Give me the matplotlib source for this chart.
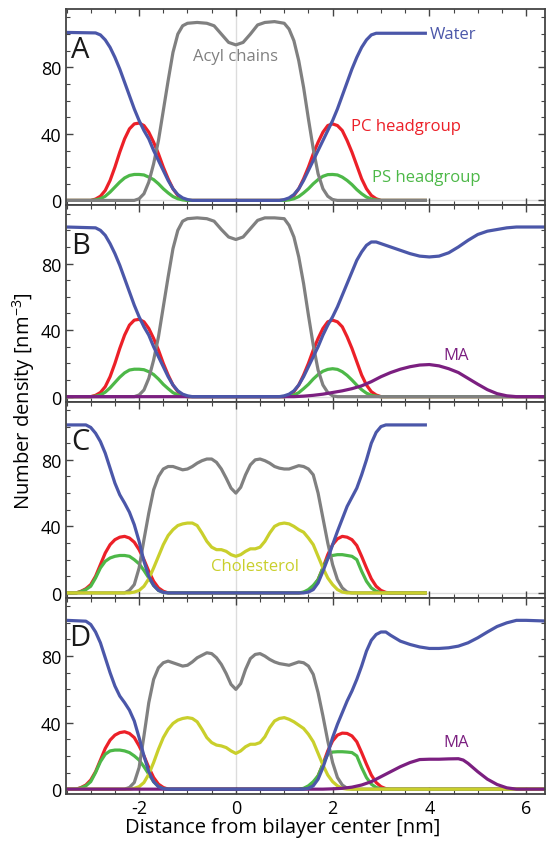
import matplotlib
matplotlib.use('Agg')
import matplotlib.pyplot as plt
from matplotlib.ticker import MultipleLocator

plt.rcParams['font.family'] = ['Open Sans', 'DejaVu Sans']
plt.rcParams['axes.unicode_minus'] = False
plt.rcParams['mathtext.default'] = 'regular'

# colours
BLUE = '#4b57a9'
RED = '#ec2028'
GREEN = '#4db848'
GRAY = '#808080'
YELLOW = '#c9cf2c'
PURPLE = '#7b1f80'

# ---------------- panel A ----------------
water_a_x = [-3.5, -2.9, -2.8, -2.7, -2.6, -2.5, -2.4, -2.3, -2.2, -2.1, -2.0, -1.9, -1.8, -1.7, -1.6, -1.5,
             -1.4, -1.3, -1.2, -1.1, -1.0, -0.9,
             0.9, 1.0, 1.1, 1.2, 1.3, 1.4, 1.5, 1.6, 1.7, 1.8, 1.9, 2.0, 2.1, 2.2, 2.3, 2.4, 2.5, 2.6, 2.7, 2.8,
             2.9, 3.95]
water_a_y = [101, 100.7, 99.5, 96.5, 92, 86, 79, 71, 63, 55, 48, 42, 37, 30, 24, 18, 12, 7, 3.5, 1.5, 0.5, 0,
             0, 0.5, 1.5, 3.5, 7, 12, 18, 24, 30, 36, 42, 48, 55, 63, 71, 79, 86, 92, 96.5, 99.5, 100.5, 100.5]

acyl_a_x = [-3.5, -2.1, -2.0, -1.9, -1.8, -1.7, -1.6, -1.5, -1.4, -1.3, -1.2, -1.1, -1.0, -0.8, -0.6, -0.45, -0.3,
            -0.15, 0.0, 0.15, 0.3, 0.45, 0.6, 0.8, 1.0, 1.1, 1.2, 1.3, 1.4, 1.5, 1.6, 1.7, 1.8, 1.9, 2.0, 2.1, 3.95]
acyl_a_y = [0, 0, 1, 4, 11, 22, 36, 54, 72, 89, 100, 105, 106.5, 107, 106.5, 105, 100, 95, 93.5, 95, 100, 105.5,
            107, 107.5, 106.5, 103, 96, 84, 68, 49, 31, 16, 7, 2.5, 0.5, 0, 0]

head_a_x = [-3.5, -3.0, -2.9, -2.8, -2.7, -2.6, -2.5, -2.4, -2.3, -2.2, -2.1, -2.0, -1.9, -1.8, -1.7, -1.6, -1.5,
            -1.4, -1.3, -1.2, -1.1, -1.0,
            1.0, 1.1, 1.2, 1.3, 1.4, 1.5, 1.6, 1.7, 1.8, 1.9, 2.0, 2.1, 2.2, 2.3, 2.4, 2.5, 2.6, 2.7, 2.8, 2.9,
            3.0, 3.95]
pc_a_y = [0, 0, 0.8, 2.5, 6, 12, 20, 29, 37, 43, 46, 46.5, 45, 41, 35, 28, 20, 13, 7, 3, 1, 0,
          0, 1, 3, 7, 13, 20, 28, 35, 41, 45, 46, 45, 42, 36, 29, 21, 13, 7, 3, 1, 0, 0]
ps_a_y = [0, 0, 0.3, 1, 2.5, 5, 8, 11, 13.5, 15, 15.6, 15.6, 15.3, 14, 12.5, 10, 7, 4.5, 2.3, 1, 0.3, 0,
          0, 0.3, 1, 2.3, 4.5, 7, 10, 12.5, 14.5, 15.5, 15.6, 15.3, 14, 12, 9.5, 6.5, 4, 2, 0.8, 0.3, 0, 0]

# ---------------- panel B ----------------
water_b_x = [-3.5, -2.9, -2.8, -2.7, -2.6, -2.5, -2.4, -2.3, -2.2, -2.1, -2.0, -1.9, -1.8, -1.7, -1.6, -1.5,
             -1.4, -1.3, -1.2, -1.1, -1.0, -0.9,
             0.9, 1.0, 1.1, 1.2, 1.3, 1.4, 1.5, 1.6, 1.7, 1.8, 1.9, 2.0, 2.1, 2.2, 2.3, 2.4, 2.5, 2.6, 2.7, 2.8,
             2.9, 3.0, 3.2, 3.4, 3.6, 3.8, 4.0, 4.2, 4.4, 4.6, 4.8, 5.0, 5.2, 5.4, 5.6, 5.8, 6.0, 6.5]
water_b_y = [102, 101.5, 100, 97, 92, 86, 79, 71, 63, 55, 48, 42, 37, 30, 24, 18, 12, 7, 3.5, 1.5, 0.5, 0,
             0, 0.5, 1.5, 3.5, 7, 12, 18, 24, 30, 37, 43, 48, 54, 61, 68, 75, 82, 87, 91, 93, 93,
             92, 90, 88, 86, 84.5, 84, 84.5, 86.5, 90, 94, 97.5, 99.5, 100.5, 101.5, 102, 102, 102]

acyl_b_x = [-3.5, -2.1, -2.0, -1.9, -1.8, -1.7, -1.6, -1.5, -1.4, -1.3, -1.2, -1.1, -1.0, -0.8, -0.6, -0.45, -0.3,
            -0.15, 0.0, 0.15, 0.3, 0.45, 0.6, 0.8, 1.0, 1.1, 1.2, 1.3, 1.4, 1.5, 1.6, 1.7, 1.8, 1.9, 2.0, 2.1, 6.5]
acyl_b_y = [0, 0, 1, 4, 11, 22, 36, 54, 72, 89, 100, 105.5, 107, 107.5, 107, 105.5, 100.5, 96, 94.5, 96, 101, 106,
            107.5, 107.5, 107, 103, 96, 84, 68, 49, 31, 16, 7, 2.5, 0.5, 0, 0]

head_b_x = [-3.5, -3.0, -2.9, -2.8, -2.7, -2.6, -2.5, -2.4, -2.3, -2.2, -2.1, -2.0, -1.9, -1.8, -1.7, -1.6, -1.5,
            -1.4, -1.3, -1.2, -1.1, -1.0,
            1.0, 1.1, 1.2, 1.3, 1.4, 1.5, 1.6, 1.7, 1.8, 1.9, 2.0, 2.1, 2.2, 2.3, 2.4, 2.5, 2.6, 2.7, 2.8, 2.9,
            3.0, 6.5]
pc_b_y = [0, 0, 0.8, 2.5, 6, 12, 20, 29, 37, 43, 46, 46.5, 45, 41, 35, 28, 20, 13, 7, 3, 1, 0,
          0, 1, 3, 7, 13, 20, 28, 35, 41, 45, 46, 45, 42, 36, 29, 21, 13, 7, 3, 1, 0, 0]
ps_b_y = [0, 0, 0.3, 1, 2.7, 5.3, 8.5, 11.7, 14.3, 16, 16.5, 16.5, 16.2, 15, 13.3, 10.6, 7.4, 4.8, 2.4, 1, 0.3, 0,
          0, 0.3, 1, 2.4, 4.8, 7.4, 10.6, 13.3, 15.3, 16.4, 16.8, 16.4, 15, 12.8, 10, 6.9, 4.2, 2.1, 0.8, 0.3, 0, 0]

ma_b_x = [-3.5, 1.2, 1.4, 1.6, 1.8, 2.0, 2.2, 2.4, 2.6, 2.8, 3.0, 3.2, 3.4, 3.6, 3.8, 4.0, 4.2, 4.4, 4.6, 4.8,
          5.0, 5.2, 5.4, 5.6, 5.8, 6.5]
ma_b_y = [0, 0, 0.3, 0.8, 1.5, 2.5, 3.5, 4.8, 6.5, 9, 12, 14.5, 16.5, 18, 19, 19.3, 18.5, 16.8, 14.5, 11,
          7.5, 4.2, 1.8, 0.5, 0, 0]

# ---------------- panel C ----------------
water_c_x = [-3.5, -3.1, -3.0, -2.9, -2.8, -2.7, -2.6, -2.5, -2.4, -2.3, -2.2, -2.1, -2.0, -1.9, -1.8, -1.7,
             -1.6, -1.5, -1.4,
             1.4, 1.5, 1.6, 1.7, 1.8, 1.9, 2.0, 2.1, 2.2, 2.3, 2.4, 2.5, 2.6, 2.7, 2.8, 2.9, 3.0, 3.1, 3.95]
water_c_y = [101, 101, 99.5, 96, 91, 84, 75, 66, 59, 54, 48.5, 41, 31, 19, 10, 4.5, 1.5, 0.3, 0,
             0, 0.5, 2, 6, 13, 20.5, 29, 37, 44.5, 52, 57.5, 63, 71, 80, 90, 96.5, 100, 101, 101]

core_c_x = [-3.5, -2.3, -2.2, -2.1, -2.0, -1.9, -1.8, -1.7, -1.6, -1.5, -1.4, -1.3, -1.2, -1.1, -1.0, -0.9, -0.8,
            -0.7, -0.6, -0.5, -0.4, -0.3, -0.2, -0.1, 0.0, 0.1, 0.2, 0.3, 0.4, 0.5, 0.6, 0.7, 0.8, 0.9, 1.0,
            1.1, 1.2, 1.3, 1.4, 1.5, 1.6, 1.7, 1.8, 1.9, 2.0, 2.1, 2.2, 2.3, 2.4, 3.95]
acyl_c_y = [0, 0, 1.5, 5, 15, 32, 48, 62, 70, 74.5, 76, 76, 75, 74, 74.5, 76, 78, 79.5, 80.5, 80.5, 78.5, 74.5,
            69, 63, 60, 63.5, 71, 77, 80, 80.5, 79.5, 78, 76, 75, 74.5, 74.5, 75.5, 76.5, 76, 74.5, 71, 60, 45,
            30, 17, 8, 3, 0.5, 0, 0]
chol_c_y = [0, 0, 0, 0.5, 1.5, 4, 8.5, 15, 22, 29, 34.5, 38, 40.5, 41.5, 42, 42, 40.5, 36, 31, 27.5, 26, 26,
            25, 23, 22, 23, 25, 26.5, 26.5, 27.5, 31, 36, 40, 41.5, 42, 41.5, 40, 38, 36.5, 33, 29, 22, 15, 9,
            5, 2, 0.5, 0, 0, 0]

head_c_x = [-3.5, -3.3, -3.2, -3.1, -3.0, -2.9, -2.8, -2.7, -2.6, -2.5, -2.4, -2.3, -2.2, -2.1, -2.0, -1.9,
            -1.8, -1.7, -1.6, -1.5, -1.4,
            1.3, 1.4, 1.5, 1.6, 1.7, 1.8, 1.9, 2.0, 2.1, 2.2, 2.3, 2.4, 2.5, 2.6, 2.7, 2.8, 2.9, 3.0, 3.1, 3.2,
            3.95]
pc_c_y = [0, 0, 1, 2.5, 5, 10, 17, 24, 29, 32, 33.5, 34, 33, 30.5, 26, 20, 13, 7, 3, 1, 0,
          0, 0.3, 1, 3.5, 8, 15, 23, 29, 32.5, 34, 33.5, 32, 28.5, 22, 15, 8.5, 4, 1.5, 0.3, 0, 0]
ps_c_y = [0, 0, 0.8, 2, 4, 9, 15, 19, 21, 22, 22.5, 22.5, 22, 20, 17.5, 13.5, 9, 4.5, 1.5, 0.3, 0,
          0, 0.5, 2, 4.5, 8, 15, 21, 22.5, 23, 23, 22.5, 22, 20, 13, 7, 3, 1, 0.2, 0, 0, 0]

# ---------------- panel D ----------------
water_d_x = [-3.5, -3.1, -3.0, -2.9, -2.8, -2.7, -2.6, -2.5, -2.4, -2.3, -2.2, -2.1, -2.0, -1.9, -1.8, -1.7,
             -1.6, -1.5, -1.4,
             1.4, 1.5, 1.6, 1.7, 1.8, 1.9, 2.0, 2.1, 2.2, 2.3, 2.4, 2.5, 2.6, 2.7, 2.8, 2.9, 3.0, 3.1,
             3.2, 3.4, 3.6, 3.8, 4.0, 4.2, 4.4, 4.6, 4.8, 5.0, 5.2, 5.4, 5.6, 5.8, 6.0, 6.5]
water_d_y = [101.5, 101, 99, 94.5, 88, 79, 70, 62, 56, 52, 47.5, 41, 31, 20, 10.5, 4.5, 1.5, 0.3, 0,
             0, 0.5, 2, 6, 13, 21.5, 31, 39, 46, 53, 59, 66, 74, 83, 89.5, 93, 94.5, 94.5,
             92.5, 89, 87, 85.5, 84.6, 84.6, 85, 86, 88, 91, 94.5, 97.8, 100, 101.5, 101.5, 101]

core_d_x = [-3.5, -2.3, -2.2, -2.1, -2.0, -1.9, -1.8, -1.7, -1.6, -1.5, -1.4, -1.3, -1.2, -1.1, -1.0, -0.9, -0.8,
            -0.7, -0.6, -0.5, -0.4, -0.3, -0.2, -0.1, 0.0, 0.1, 0.2, 0.3, 0.4, 0.5, 0.6, 0.7, 0.8, 0.9, 1.0,
            1.1, 1.2, 1.3, 1.4, 1.5, 1.6, 1.7, 1.8, 1.9, 2.0, 2.1, 2.2, 2.3, 2.4, 6.5]
acyl_d_y = [0, 0, 1, 4, 13, 32, 52, 66, 73, 76, 77, 76, 75, 74, 74.5, 76.5, 79, 80.5, 82, 81.5, 79, 75,
            69.5, 63, 60, 63.5, 72, 78.5, 81, 81.5, 80, 78, 76.5, 75.5, 75, 74.5, 75.5, 76.5, 76, 74, 69, 58,
            44, 29, 16, 7, 2.5, 0.5, 0, 0]
chol_d_y = [0, 0, 0, 0.5, 1.5, 4, 9, 16, 24, 31, 36, 39.5, 41.5, 42.5, 43, 42.5, 40.5, 36, 31, 28, 26.5, 26,
            25, 23, 21.5, 23, 25.5, 27, 27, 28, 31.5, 37, 41, 42.5, 43, 42, 40.5, 38.5, 36.5, 33, 28.5, 21.5,
            14.5, 8.5, 4.5, 2, 0.5, 0, 0, 0]

head_d_x = [-3.5, -3.3, -3.2, -3.1, -3.0, -2.9, -2.8, -2.7, -2.6, -2.5, -2.4, -2.3, -2.2, -2.1, -2.0, -1.9,
            -1.8, -1.7, -1.6, -1.5, -1.4,
            1.3, 1.4, 1.5, 1.6, 1.7, 1.8, 1.9, 2.0, 2.1, 2.2, 2.3, 2.4, 2.5, 2.6, 2.7, 2.8, 2.9, 3.0, 3.1, 3.2,
            6.5]
pc_d_y = [0, 0, 1, 2.5, 5.5, 10.5, 17.5, 24.5, 29.5, 32.5, 34, 34.5, 33.5, 31, 26, 20, 13, 7, 3, 1, 0,
          0, 0.3, 1, 3.5, 8, 15, 23, 29, 32.5, 33.7, 33.5, 32, 28.5, 22, 15, 8.5, 4, 1.5, 0.3, 0, 0]
ps_d_y = [0, 0, 0.8, 2, 4.5, 10, 16.5, 21, 23, 23.5, 23.5, 23, 22, 20, 17.5, 13.5, 9, 4.5, 1.5, 0.3, 0,
          0, 0.5, 2, 4.5, 8, 15, 21, 22.3, 22.5, 22.5, 22.3, 22, 20, 13, 7, 3, 1, 0.2, 0, 0, 0]

ma_d_x = [-3.5, 1.8, 2.0, 2.2, 2.4, 2.6, 2.8, 3.0, 3.2, 3.4, 3.6, 3.8, 4.0, 4.2, 4.4, 4.6, 4.7, 4.8, 5.0, 5.2,
          5.4, 5.6, 5.8, 6.5]
ma_d_y = [0, 0, 0.2, 0.5, 1.2, 2.5, 4.5, 7.5, 10.5, 13.5, 16, 17.8, 18, 18, 18.2, 18.3, 17.5, 15.5, 10.5, 6,
          2.8, 0.8, 0, 0]

panel_letters = ['A', 'B', 'C', 'D']

fig, axes = plt.subplots(4, 1, sharex=True, figsize=(5.46, 8.45), dpi=100)
fig.subplots_adjust(left=0.121, right=0.999, bottom=0.059, top=0.988, hspace=0)

LW = 2.3


def line(ax, x, y, color):
    ax.plot(x, y, color=color, lw=LW, solid_joinstyle='round', solid_capstyle='butt')


panels = [
    dict(pc=(head_a_x, pc_a_y), ps=(head_a_x, ps_a_y), acyl=(acyl_a_x, acyl_a_y), chol=None, ma=None,
         water=(water_a_x, water_a_y)),
    dict(pc=(head_b_x, pc_b_y), ps=(head_b_x, ps_b_y), acyl=(acyl_b_x, acyl_b_y), chol=None, ma=(ma_b_x, ma_b_y),
         water=(water_b_x, water_b_y)),
    dict(pc=(head_c_x, pc_c_y), ps=(head_c_x, ps_c_y), acyl=(core_c_x, acyl_c_y), chol=(core_c_x, chol_c_y),
         ma=None, water=(water_c_x, water_c_y)),
    dict(pc=(head_d_x, pc_d_y), ps=(head_d_x, ps_d_y), acyl=(core_d_x, acyl_d_y), chol=(core_d_x, chol_d_y),
         ma=(ma_d_x, ma_d_y), water=(water_d_x, water_d_y)),
]

for ax, p, letter in zip(axes, panels, panel_letters):
    ax.axhline(0, color='#dcdcdc', lw=1, zorder=0)
    ax.axvline(0, color='#dcdcdc', lw=1, zorder=0)
    line(ax, *p['pc'], RED)
    line(ax, *p['ps'], GREEN)
    line(ax, *p['acyl'], GRAY)
    if p['chol']:
        line(ax, *p['chol'], YELLOW)
    if p['ma']:
        line(ax, *p['ma'], PURPLE)
    line(ax, *p['water'], BLUE)

    ax.set_xlim(-3.51, 6.4)
    ax.set_ylim(-3, 115)
    ax.yaxis.set_major_locator(MultipleLocator(40))
    ax.yaxis.set_minor_locator(MultipleLocator(10))
    ax.xaxis.set_major_locator(MultipleLocator(2))
    ax.xaxis.set_minor_locator(MultipleLocator(0.5))
    ax.tick_params(which='both', direction='in', top=True, right=True, color='#444444',
                   labelsize=13, labelcolor='black')
    ax.tick_params(which='major', length=5, width=1)
    ax.tick_params(which='minor', length=3, width=0.8)
    for s in ax.spines.values():
        s.set_color('#444444')
        s.set_linewidth(1.3)
    ax.text(-3.22, 91, letter, fontsize=21, ha='center', va='center', color='#1a1a1a')

axes[0].text(0.0, 87, 'Acyl chains', color=GRAY, fontsize=12, ha='center', va='center')
axes[0].text(4.49, 100, 'Water', color=BLUE, fontsize=12, ha='center', va='center')
axes[0].text(3.51, 45, 'PC headgroup', color=RED, fontsize=12, ha='center', va='center')
axes[0].text(3.94, 14, 'PS headgroup', color=GREEN, fontsize=12, ha='center', va='center')
axes[1].text(4.55, 25, 'MA', color=PURPLE, fontsize=12, ha='center', va='center')
axes[2].text(0.4, 16, 'Cholesterol', color=YELLOW, fontsize=12, ha='center', va='center')
axes[3].text(4.55, 28.5, 'MA', color=PURPLE, fontsize=12, ha='center', va='center')

fig.text(24 / 546, 1 - 401 / 845, 'Number density [nm$^{-3}$]', rotation=90, fontsize=14.5,
         ha='center', va='center')
fig.text(283 / 546, 1 - 828 / 845, 'Distance from bilayer center [nm]', fontsize=14.5,
         ha='center', va='center')

fig.savefig('out.png', dpi=100)
